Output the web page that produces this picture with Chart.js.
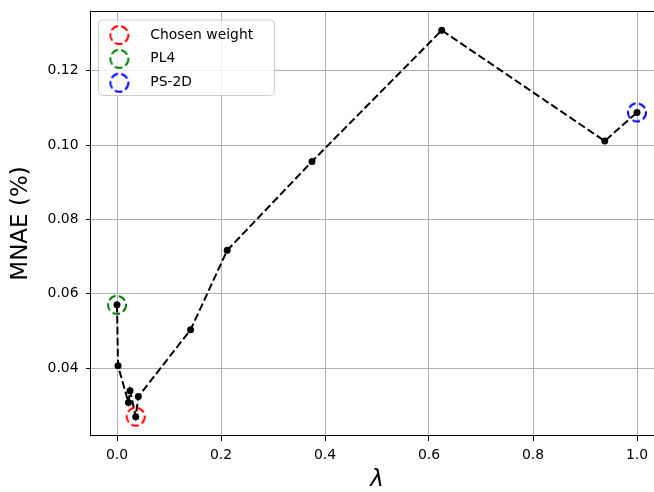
<!DOCTYPE html>
<html>
<head>
<meta charset="utf-8">
<script src="https://cdn.jsdelivr.net/npm/chart.js@4"></script>
<style>
html,body{margin:0;padding:0;overflow:hidden;background:#fff;width:654px;height:492px}
canvas{display:block}
</style>
</head>
<body>
<canvas id="c" width="674" height="492" style="width:674px;height:492px"></canvas>
<script>
// ---- data ----
const lambdas = [0.0, 0.002, 0.022, 0.025, 0.036, 0.041, 0.1415, 0.212, 0.375, 0.6245, 0.938, 1.0];
const mnae    = [0.0570, 0.0406, 0.0307, 0.0339, 0.0269, 0.0323, 0.0503, 0.0717, 0.0956, 0.1309, 0.1011, 0.1088];
const highlightLabels = ['Chosen weight', 'PL4', 'PS-2D'];
const highlightLambda = [0.036, 0.0, 1.0];
const highlightMnae   = [0.0269, 0.0570, 0.1088];
const highlightColors = ['#ff0000', '#008000', '#0000ff'];
const xTicks = [0.0, 0.2, 0.4, 0.6, 0.8, 1.0];
const yTicks = [0.04, 0.06, 0.08, 0.10, 0.12];
const xLabel = 'λ';
const yLabel = 'MNAE (%)';

Chart.defaults.font.family = "'DejaVu Sans', sans-serif";
Chart.defaults.color = '#000';

function ring(color) {
  const c = document.createElement('canvas');
  c.width = 22; c.height = 22;
  const g = c.getContext('2d');
  g.strokeStyle = color;
  g.lineWidth = 2;
  g.setLineDash([7.7, 3.3]);
  g.beginPath();
  g.arc(11, 11, 9, 0, Math.PI * 2);
  g.stroke();
  return c;
}

function drawLegendFrame(chart) {
  const ctx = chart.ctx, ca = chart.chartArea;
  const x = ca.left + 7.5, y = ca.top + 9, w = 176, h = 75.5, r = 4;
  ctx.save();
  ctx.beginPath();
  ctx.moveTo(x + r, y);
  ctx.arcTo(x + w, y, x + w, y + h, r);
  ctx.arcTo(x + w, y + h, x, y + h, r);
  ctx.arcTo(x, y + h, x, y, r);
  ctx.arcTo(x, y, x + w, y, r);
  ctx.closePath();
  ctx.fillStyle = 'rgba(255,255,255,0.8)';
  ctx.fill();
  ctx.strokeStyle = '#cccccc';
  ctx.lineWidth = 1;
  ctx.stroke();
  ctx.restore();
}

const legendPlace = {
  id: 'legendPlace',
  afterLayout(chart) {
    const lg = chart.legend;
    if (!lg) return;
    const ca = chart.chartArea;
    const w = lg.width, h = lg.height;
    lg.left = ca.left - 5.6;
    lg.top = ca.top + 7.1;
    lg.right = lg.left + w;
    lg.bottom = lg.top + h + 20;
    if (!lg._framed) {
      const orig = lg.draw;
      lg.draw = function () { drawLegendFrame(chart); return orig.apply(this, arguments); };
      lg._framed = true;
    }
  }
};

const axesFrame = {
  id: 'axesFrame',
  afterDatasetsDraw(chart) {
    const ctx = chart.ctx, ca = chart.chartArea;
    ctx.save();
    ctx.strokeStyle = '#000';
    ctx.lineWidth = 1;
    const l = Math.round(ca.left) - 0.5, t = Math.round(ca.top) + 0.5;
    const r = Math.round(ca.right) - 0.5, b = Math.round(ca.bottom) - 0.5;
    ctx.strokeRect(l, t, r - l, b - t);
    ctx.restore();
  }
};

const datasets = [{
  label: 'MNAE',
  data: lambdas.map((x, i) => ({ x: x, y: mnae[i] })),
  showLine: true,
  borderColor: '#000',
  borderWidth: 2,
  borderDash: [7.7, 3.3],
  pointRadius: 3.5,
  pointBackgroundColor: '#000',
  pointBorderColor: '#000',
  pointBorderWidth: 0,
  order: 1
}];
highlightLabels.forEach((lab, i) => {
  datasets.push({
    label: lab,
    data: [{ x: highlightLambda[i], y: highlightMnae[i] }],
    pointStyle: ring(highlightColors[i]),
    pointRadius: 10,
    borderColor: highlightColors[i],
    backgroundColor: 'rgba(0,0,0,0)',
    order: 0
  });
});

const gridOpts = { color: '#b0b0b0', lineWidth: 1, tickColor: '#000', tickLength: 5, tickWidth: 1, z: -1 };

new Chart(document.getElementById('c'), {
  type: 'scatter',
  data: { datasets: datasets },
  options: {
    responsive: false,
    animation: false,
    devicePixelRatio: 1,
    layout: { padding: { top: 8.5, right: 0, left: 0, bottom: 0 } },
    plugins: {
      tooltip: { enabled: false },
      legend: {
        position: 'chartArea',
        align: 'start',
        labels: {
          usePointStyle: true,
          pointStyleWidth: 48,
          padding: 9.95,
          font: { size: 13.9 },
          color: '#000',
          filter: item => item.datasetIndex > 0
        }
      }
    },
    scales: {
      x: {
        type: 'linear',
        min: -0.05,
        max: 1.05,
        afterBuildTicks: ax => { ax.ticks = xTicks.map(v => ({ value: v })); },
        afterFit: ax => { ax.height = 56; ax.paddingLeft = 0; ax.paddingRight = 0; },
        grid: gridOpts,
        border: { display: false },
        ticks: { font: { size: 13.9 }, padding: 6, color: '#000', callback: v => Number(v).toFixed(1) },
        title: { display: true, text: xLabel, color: '#000', font: { size: 23, style: 'italic', lineHeight: 1.0 }, padding: { top: 0, bottom: 0 } }
      },
      y: {
        type: 'linear',
        min: 0.0217,
        max: 0.1361,
        afterBuildTicks: ax => { ax.ticks = yTicks.map(v => ({ value: v })); },
        afterFit: ax => { ax.width = 91; ax.paddingTop = 0; ax.paddingBottom = 0; },
        grid: gridOpts,
        border: { display: false },
        ticks: { font: { size: 13.9 }, padding: 7.5, color: '#000', callback: v => Number(v).toFixed(2) },
        title: { display: true, text: yLabel, color: '#000', font: { size: 23 }, padding: { top: 7, bottom: 0 } }
      }
    }
  },
  plugins: [legendPlace, axesFrame]
});
</script>
</body>
</html>
